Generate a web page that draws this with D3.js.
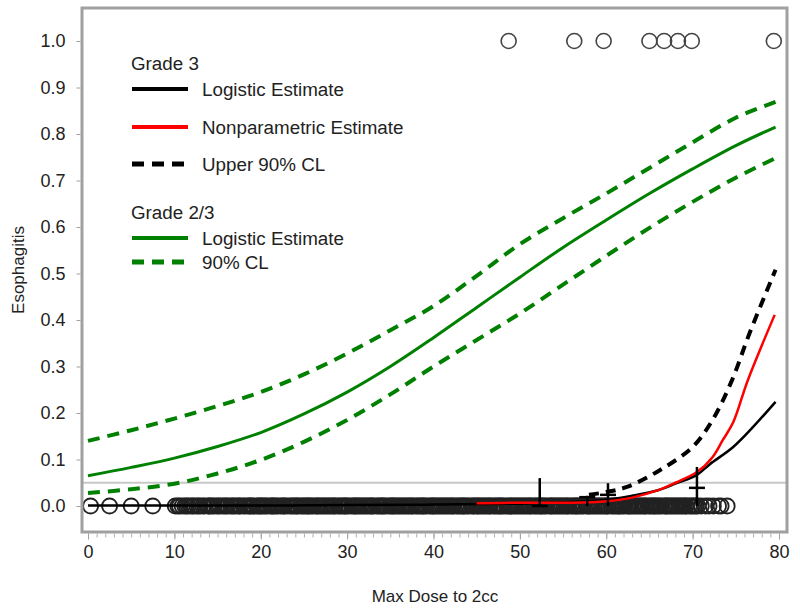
<!DOCTYPE html>
<html>
<head>
<meta charset="utf-8">
<script src="https://cdn.jsdelivr.net/npm/d3@7"></script>
<style>
  html, body { margin: 0; padding: 0; background: #fff; }
  svg { display: block; font-family: "Liberation Sans", Arial, sans-serif; }
</style>
</head>
<body>
<svg id="chart" width="800" height="612"></svg>
<script>
// ---------- data ----------
const xTicks = [0, 10, 20, 30, 40, 50, 60, 70, 80];
const yTicks = [0, 0.1, 0.2, 0.3, 0.4, 0.5, 0.6, 0.7, 0.8, 0.9, 1.0];

// Grade 2/3 logistic estimate and 90% CL
const g23Dose  = [0, 5, 10, 15, 20, 25, 30, 35, 40, 45, 50, 55, 60, 65, 70, 75, 79.6];
const g23Est   = [0.065, 0.083, 0.103, 0.128, 0.158, 0.198, 0.245, 0.300, 0.362, 0.427, 0.492, 0.556, 0.615, 0.672, 0.725, 0.775, 0.815];
const g23Upper = [0.140, 0.163, 0.188, 0.215, 0.245, 0.283, 0.328, 0.378, 0.430, 0.495, 0.563, 0.619, 0.672, 0.727, 0.782, 0.835, 0.869];
const g23Lower = [0.028, 0.036, 0.048, 0.070, 0.099, 0.138, 0.185, 0.240, 0.300, 0.357, 0.414, 0.476, 0.538, 0.598, 0.654, 0.706, 0.748];

// Grade 3 logistic estimate
const g3Dose = [0, 10, 20, 30, 40, 50, 55, 60, 63, 66, 68, 70.5, 72, 74.7, 77, 79.6];
const g3Est  = [0.001, 0.001, 0.001, 0.002, 0.003, 0.005, 0.008, 0.013, 0.022, 0.034, 0.048, 0.067, 0.090, 0.127, 0.170, 0.224];
// Grade 3 upper 90% CL
const g3UpDose = [58, 60, 62.4, 66.2, 70, 72.3, 74.5, 76.6, 79.6];
const g3Upper  = [0.024, 0.030, 0.041, 0.077, 0.127, 0.185, 0.268, 0.372, 0.508];
// Grade 3 nonparametric estimate
const npDose = [45, 50, 55, 58, 60, 63, 66, 68, 70.5, 72.3, 73.5, 74.7, 76.4, 79.5];
const npEst  = [0.006, 0.007, 0.007, 0.008, 0.010, 0.018, 0.034, 0.050, 0.073, 0.105, 0.142, 0.180, 0.271, 0.411];

// Nonparametric bin estimates with upper limits (crosses)
const binDose = [52.3, 57.8, 60.2, 70.5];
const binEst  = [0.000, 0.019, 0.024, 0.039];
const binHigh = [0.060, 0.022, 0.049, 0.084];
const binLow  = [0.000, 0.000, 0.000, 0.000];

// observed outcomes (grade 3 events = 1, no event = 0)
const eventDose = [48.7, 56.3, 59.7, 65.0, 66.7, 68.3, 69.9, 79.4];
const noEventDose = [0.3, 2.5, 5.0, 7.5,
  10.1,10.4,10.6,10.9,11.2,11.4,11.6,11.9,12.1,12.3,12.6,12.8,13.0,13.3,13.5,13.9,14.0,14.2,14.4,14.6,14.9,15.1,15.3,15.6,15.8,16.0,
  16.2,16.5,16.7,16.9,17.1,17.4,17.5,17.7,18.0,18.2,18.5,18.7,18.8,19.0,19.2,19.5,19.7,19.9,
  20.0,20.2,20.4,20.6,20.8,21.1,21.3,21.4,21.6,21.8,22.0,22.3,22.5,22.7,22.8,23.1,23.4,23.6,23.8,24.0,24.2,24.3,24.6,24.8,
  25.0,25.2,25.4,25.5,25.7,25.9,26.1,26.4,26.5,26.7,26.9,27.1,27.3,27.5,27.7,27.9,28.1,28.3,28.5,28.6,28.9,29.1,29.3,29.5,29.7,29.8,
  30.0,30.2,30.5,30.7,30.9,31.0,31.2,31.4,31.6,31.8,32.0,32.2,32.4,32.6,32.8,32.9,33.1,33.4,33.6,33.8,34.0,34.1,34.3,34.5,34.8,
  35.0,35.2,35.3,35.5,35.7,35.9,36.1,36.3,36.5,36.7,36.9,37.1,37.3,37.5,37.6,37.9,38.1,38.3,38.5,38.7,38.8,39.0,39.2,39.5,39.7,39.9,
  40.0,40.2,40.4,40.6,40.8,41.0,41.2,41.4,41.6,41.8,42.0,42.2,42.3,42.6,42.8,43.0,43.2,43.4,43.5,43.7,43.9,44.1,44.4,44.6,44.7,
  45.0,45.1,45.3,45.5,45.7,45.9,46.1,46.3,46.5,46.6,46.9,47.1,47.3,47.5,47.7,47.8,48.0,48.2,48.5,48.7,48.9,49.0,49.2,49.4,49.6,49.8,
  50.0,50.2,50.4,50.6,50.8,51.0,51.2,51.3,51.6,51.8,52.0,52.2,52.4,52.5,52.7,52.9,53.1,53.4,53.6,53.7,53.9,54.1,54.3,54.5,54.7,54.9,
  55.1,55.3,55.5,55.6,55.9,56.1,56.3,56.5,56.6,56.8,57.0,57.2,57.4,57.7,57.9,58.0,58.2,58.4,58.6,58.8,59.0,59.2,59.4,59.6,59.8,
  60.0,60.1,60.3,60.6,60.8,61.0,61.2,61.4,61.5,61.7,61.9,62.1,62.4,62.6,62.7,62.9,63.1,63.3,63.5,63.7,63.9,64.1,64.3,64.5,64.6,64.9,
  65.1,65.3,65.5,65.6,65.8,66.0,66.2,66.4,66.7,66.9,67.0,67.2,67.4,67.6,67.8,68.0,68.2,68.4,68.6,68.8,69.0,69.2,69.3,69.6,69.8,
  70.0,70.2,70.4,70.6,71.0,71.5,71.9,72.4,73.0,73.3,74.0];

const refLevel = 0.05;

// legend
const legendGroups = ["Grade 3", "Grade 2/3"];
const legendLabels = ["Logistic Estimate", "Nonparametric Estimate", "Upper 90% CL", "Logistic Estimate", "90% CL"];

// ---------- drawing ----------
const svg = d3.select("#chart");
const x = d3.scaleLinear().domain([0, 80]).range([88, 779]);
const y = d3.scaleLinear().domain([0, 1]).range([506, 41]);

const frame = {left: 82, right: 787, top: 8, bottom: 532};
const GREEN = "#008000";

// reference line
svg.append("line")
  .attr("x1", frame.left).attr("x2", frame.right)
  .attr("y1", y(refLevel)).attr("y2", y(refLevel))
  .attr("stroke", "#c8c8c8").attr("stroke-width", 2);

// circles at 0
svg.append("g").selectAll("circle").data(noEventDose).join("circle")
  .attr("cx", d => x(d)).attr("cy", y(0)).attr("r", 7.5)
  .attr("fill", "none").attr("stroke", "#222").attr("stroke-width", 1.8);
// circles at 1
svg.append("g").selectAll("circle").data(eventDose).join("circle")
  .attr("cx", d => x(d)).attr("cy", y(1)).attr("r", 7.5)
  .attr("fill", "none").attr("stroke", "#444").attr("stroke-width", 1.6);

const line = d3.line().x(d => x(d[0])).y(d => y(d[1])).curve(d3.curveCatmullRom.alpha(0.5));
const zip = (a, b) => a.map((v, i) => [v, b[i]]);

function drawLine(xs, ys, color, width, dash) {
  svg.append("path").datum(zip(xs, ys))
    .attr("d", line).attr("fill", "none")
    .attr("stroke", color).attr("stroke-width", width)
    .attr("stroke-dasharray", dash || null);
}

drawLine(g23Dose, g23Upper, GREEN, 4, "12,8");
drawLine(g23Dose, g23Lower, GREEN, 4, "12,8");
drawLine(g23Dose, g23Est, GREEN, 3);
drawLine(g3Dose, g3Est, "#000", 2.5);
drawLine(npDose, npEst, "#ff0000", 2.5);
drawLine(g3UpDose, g3Upper, "#000", 4, "10,7");

// crosses (bin estimates)
const bins = binDose.map((d, i) => ({d, e: binEst[i], h: binHigh[i], l: binLow[i]}));
const bg = svg.append("g");
bg.selectAll("line.v").data(bins).join("line")
  .attr("x1", b => x(b.d)).attr("x2", b => x(b.d))
  .attr("y1", b => y(b.h)).attr("y2", b => y(b.l))
  .attr("stroke", "#000").attr("stroke-width", 2.5);
bg.selectAll("line.h").data(bins).join("line")
  .attr("x1", b => x(b.d) - 8).attr("x2", b => x(b.d) + 8)
  .attr("y1", b => y(b.e)).attr("y2", b => y(b.e))
  .attr("stroke", "#000").attr("stroke-width", 2.5);

// frame
svg.append("rect")
  .attr("x", frame.left).attr("y", frame.top)
  .attr("width", frame.right - frame.left).attr("height", frame.bottom - frame.top)
  .attr("fill", "none").attr("stroke", "#a0a0a0").attr("stroke-width", 3);

// x axis
const xMinor = d3.range(0, 81, 1);
const xMinorAxis = d3.axisBottom(x).tickValues(xMinor).tickSize(4).tickFormat("");
const gxm = svg.append("g").attr("transform", `translate(0,${frame.bottom + 1.5})`).call(xMinorAxis);
gxm.select(".domain").remove();
gxm.selectAll("line").attr("stroke", "#b0b0b0");

const xAxis = d3.axisBottom(x).tickValues(xTicks).tickSize(6).tickPadding(6).tickFormat(d3.format("d"));
const gx = svg.append("g").attr("transform", `translate(0,${frame.bottom + 1.5})`).call(xAxis);
gx.select(".domain").remove();
gx.selectAll("line").attr("stroke", "#a0a0a0");
gx.selectAll("text").attr("font-size", 18).attr("fill", "#222")
  .attr("font-family", "Liberation Sans, Arial, sans-serif");

// y axis
const yAxis = d3.axisLeft(y).tickValues(yTicks).tickSize(4).tickPadding(11).tickFormat(d3.format(".1f"));
const gy = svg.append("g").attr("transform", `translate(${frame.left - 1.5},0)`).call(yAxis);
gy.select(".domain").remove();
gy.selectAll("line").attr("stroke", "#a0a0a0");
gy.selectAll("text").attr("font-size", 18).attr("fill", "#222")
  .attr("font-family", "Liberation Sans, Arial, sans-serif");

// axis titles
svg.append("text").attr("x", 435).attr("y", 602).attr("text-anchor", "middle")
  .attr("font-size", 17).attr("fill", "#222").text("Max Dose to 2cc");
svg.append("text").attr("transform", "translate(24,270) rotate(-90)").attr("text-anchor", "middle")
  .attr("font-size", 17).attr("fill", "#222").text("Esophagitis");

// legend
const lg = svg.append("g").attr("font-size", 18.8).attr("fill", "#222");
const headY = [63, 212];
legendGroups.forEach((t, i) => {
  lg.append("text").attr("x", 131).attr("y", headY[i]).attr("dy", "0.35em").text(t);
});
const items = [
  {y: 89,  color: "#000",    dash: null,    w: 4},
  {y: 127, color: "#ff0000", dash: null,    w: 4},
  {y: 164, color: "#000",    dash: "12,8",  w: 5},
  {y: 238, color: GREEN,     dash: null,    w: 4},
  {y: 262, color: GREEN,     dash: "12,8",  w: 5}
];
items.forEach((it, i) => {
  lg.append("line").attr("x1", 132).attr("x2", 188).attr("y1", it.y).attr("y2", it.y)
    .attr("stroke", it.color).attr("stroke-width", it.w)
    .attr("stroke-dasharray", it.dash);
  lg.append("text").attr("x", 202).attr("y", it.y).attr("dy", "0.35em").text(legendLabels[i]);
});
</script>
</body>
</html>
